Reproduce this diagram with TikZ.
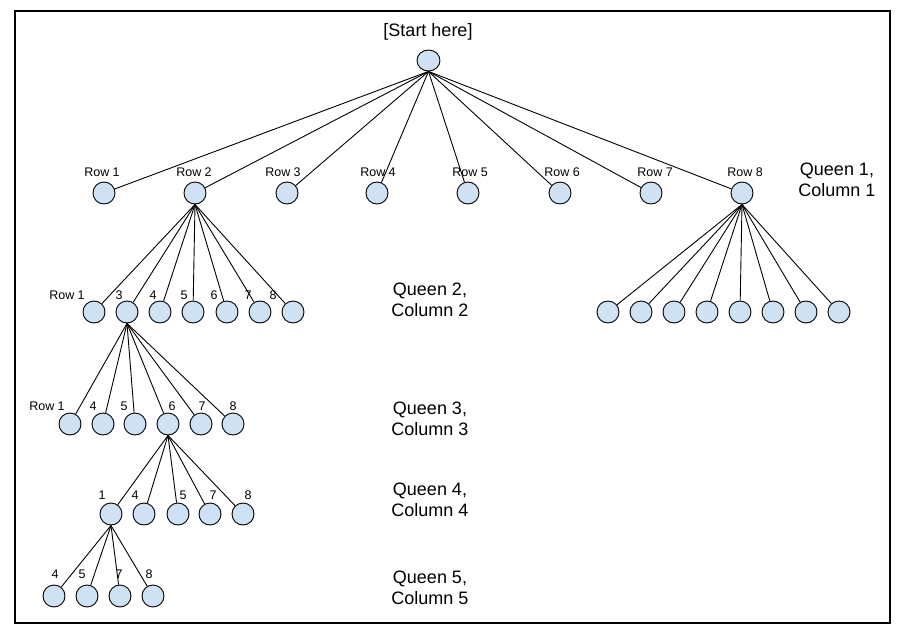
\documentclass[tikz,border=0pt]{standalone}
\usepackage{fontspec}
\setmainfont{Liberation Sans}
\usetikzlibrary{shapes.geometric}
\definecolor{cellblue}{HTML}{CFE2F3}

\tikzstyle{cell}=[circle, draw=black, fill=cellblue, minimum size=22pt, inner sep=0pt, line width=0.9pt]
\tikzstyle{rootcell}=[cell, ellipse, minimum width=23pt, minimum height=21pt]
\tikzstyle{rowtag}=[font={\fontsize{12.5}{15}\selectfont}, inner sep=0pt]
\tikzstyle{queentag}=[font={\fontsize{18}{21}\selectfont}, align=center, inner sep=0pt]
\tikzstyle{branch}=[line width=0.9pt]

\begin{document}
\begin{tikzpicture}[x=1pt, y=-1pt]
    \useasboundingbox (0,0) rectangle (906,640);
    \draw [line width=1.1pt] (15,11) rectangle (890,623);

    % start
    \node [queentag] (start) at (428,32) {[Start here]};
    \node [rootcell] (root) at (428.5,60.5) {};

    % queen 1
    \foreach \x [count=\i] in {104,195,287,377,468,560,651,742}
        \node [cell] (a\i) at (\x,193) {};
    \foreach \x [count=\i] in {102,194,283,378,470,562,655,745}
        \node [rowtag] (ta\i) at (\x,172) {Row \i};
    \foreach \i in {1,...,8}
        \draw [branch] (root.south) -- (a\i);
    \node [queentag] (q1) at (837,180) {Queen 1,\\Column 1};

    % queen 2, under row 2
    \foreach \x [count=\i] in {94,127,160,193,227,260,293}
        \node [cell] (b\i) at (\x,312) {};
    \foreach \x/\t [count=\i] in {67/Row 1,119/3,153/4,184/5,214/6,248/7,273/8}
        \node [rowtag] (tb\i) at (\x,295) {\t};
    \foreach \i in {1,...,7}
        \draw [branch] (a2.south) -- (b\i);

    % queen 2, under row 8
    \foreach \x [count=\i] in {608,641,674,707,740,773,806,839}
        \node [cell] (h\i) at (\x,312) {};
    \foreach \i in {1,...,8}
        \draw [branch] (a8.south) -- (h\i);
    \node [queentag] (q2) at (430,300) {Queen 2,\\Column 2};

    % queen 3, under 3
    \foreach \x [count=\i] in {70,103,135,168,201,233}
        \node [cell] (c\i) at (\x,424) {};
    \foreach \x/\t [count=\i] in {47/Row 1,93/4,124/5,172/6,202/7,233/8}
        \node [rowtag] (tc\i) at (\x,406) {\t};
    \foreach \i in {1,...,6}
        \draw [branch] (b2.south) -- (c\i);
    \node [queentag] (q3) at (430,419) {Queen 3,\\Column 3};

    % queen 4, under 6
    \foreach \x [count=\i] in {111,144,178,210,243}
        \node [cell] (d\i) at (\x,514) {};
    \foreach \x/\t [count=\i] in {102/1,135/4,183/5,213/7,248/8}
        \node [rowtag] (td\i) at (\x,495) {\t};
    \foreach \i in {1,...,5}
        \draw [branch] (c4.south) -- (d\i);
    \node [queentag] (q4) at (430,500) {Queen 4,\\Column 4};

    % queen 5, under 1
    \foreach \x [count=\i] in {54,87,120,153}
        \node [cell] (e\i) at (\x,596) {};
    \foreach \x/\t [count=\i] in {55/4,82/5,119/7,149/8}
        \node [rowtag] (te\i) at (\x,574) {\t};
    \foreach \i in {1,...,4}
        \draw [branch] (d1.south) -- (e\i);
    \node [queentag] (q5) at (430,588) {Queen 5,\\Column 5};
\end{tikzpicture}
\end{document}
